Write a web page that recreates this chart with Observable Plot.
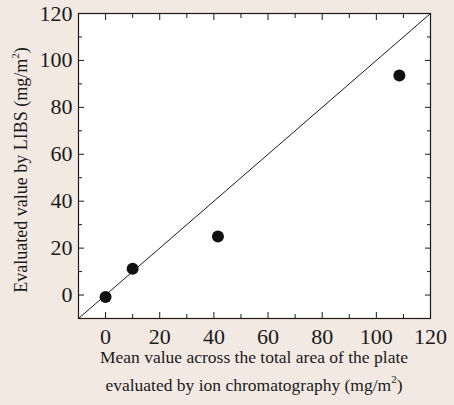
<!DOCTYPE html>
<html><head><meta charset="utf-8">
<script src="https://cdn.jsdelivr.net/npm/d3@7"></script>
<script src="https://cdn.jsdelivr.net/npm/@observablehq/plot@0.6"></script>
<style>
html,body{margin:0;padding:0;background:#f2e9e3;}
</style></head><body><div id="chart"></div>
<script>
const ionChromatography = [0, 10, 41.5, 108.5];
const libs = [-0.8, 11.2, 25, 93.6];
const majorTicks = [0, 20, 40, 60, 80, 100, 120];
const minorTicks = [10, 30, 50, 70, 90, 110];
const identityLine = [-10, 120];
const xLabelLine1 = "Mean value across the total area of the plate";
const xLabelLine2 = "evaluated by ion chromatography (mg/m";
const yLabelText = "Evaluated value by LIBS (mg/m";

const points = ionChromatography.map((x, i) => ({x, y: libs[i]}));
const diag = identityLine.map(v => ({x: v, y: v}));

const W = 454, H = 405;
const mL = 78, mR = 24, mT = 13, mB = 87;

const plot = Plot.plot({
  width: W, height: H,
  marginLeft: mL, marginRight: mR, marginTop: mT, marginBottom: mB,
  style: {fontFamily: "'Liberation Serif', serif", background: "#f2e9e3", color: "#1a1a1a"},
  x: {domain: [-10, 120]},
  y: {domain: [-10, 120]},
  marks: [
    Plot.frame({fill: "white", stroke: "none"}),
    Plot.line(diag, {x: "x", y: "y", stroke: "#1a1a1a", strokeWidth: 1}),
    Plot.dot(points, {x: "x", y: "y", r: 6, fill: "#111", stroke: "none"}),
    Plot.axisX(majorTicks, {anchor: "bottom", tickSize: 0, tickPadding: 10, fontSize: 22, label: null}),
    Plot.axisY(majorTicks, {anchor: "left", tickSize: 0, tickPadding: 6, fontSize: 22, label: null}),
    Plot.axisX(majorTicks, {anchor: "bottom", tickSize: -6, text: null, label: null}),
    Plot.axisX(minorTicks, {anchor: "bottom", tickSize: -4, text: null, label: null}),
    Plot.axisX(majorTicks, {anchor: "top", tickSize: -6, text: null, label: null}),
    Plot.axisX(minorTicks, {anchor: "top", tickSize: -4, text: null, label: null}),
    Plot.axisY(majorTicks, {anchor: "left", tickSize: -6, text: null, label: null}),
    Plot.axisY(minorTicks, {anchor: "left", tickSize: -4, text: null, label: null}),
    Plot.axisY(majorTicks, {anchor: "right", tickSize: -6, text: null, label: null}),
    Plot.axisY(minorTicks, {anchor: "right", tickSize: -4, text: null, label: null}),
    Plot.frame({stroke: "#1a1a1a", strokeWidth: 1.2})
  ]
});
document.getElementById("chart").appendChild(plot);

const svg = d3.select(plot);
const cx = mL + (W - mL - mR) / 2;
const fs = 17.5;
const t1 = svg.append("text").attr("x", cx).attr("y", 363).attr("text-anchor", "middle")
  .attr("font-size", fs).attr("fill", "#1a1a1a").text(xLabelLine1);
const t2 = svg.append("text").attr("x", cx).attr("y", 391).attr("text-anchor", "middle")
  .attr("font-size", fs).attr("fill", "#1a1a1a");
t2.append("tspan").text(xLabelLine2);
t2.append("tspan").attr("font-size", 11).attr("dy", -8).text("2");
t2.append("tspan").attr("dy", 8).text(")");

const cy = 170;
const fsy = 18;
const t3 = svg.append("text").attr("transform", `translate(27,${cy}) rotate(-90)`).attr("text-anchor", "middle")
  .attr("font-size", fsy).attr("fill", "#1a1a1a");
t3.append("tspan").text(yLabelText);
t3.append("tspan").attr("font-size", 11).attr("dy", -8).text("2");
t3.append("tspan").attr("dy", 8).text(")");
</script></body></html>
